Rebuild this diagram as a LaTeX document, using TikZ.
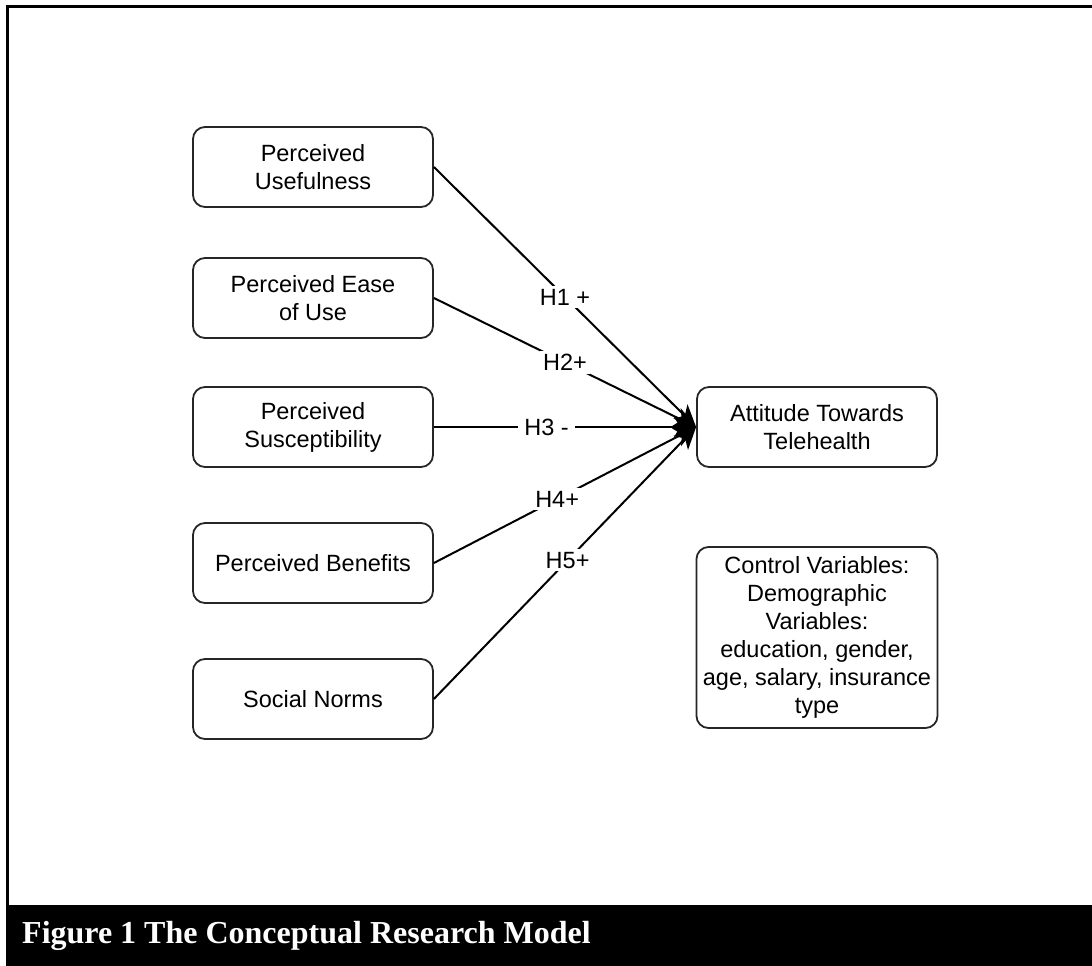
\documentclass[tikz,border=0pt]{standalone}
\usepackage{fontspec}
\setmainfont{Liberation Sans}
\newfontfamily\capfont{Liberation Serif}
\usetikzlibrary{arrows.meta}
\begin{document}
\begin{tikzpicture}[x=1pt,y=-1pt,
  box/.style={draw=black!85, line width=1.8pt, rounded corners=12pt,
    minimum width=240pt, minimum height=80pt, align=center, inner sep=0pt,
    font=\fontsize{23.5}{28}\selectfont},
  arr/.style={line width=2pt, -{Stealth[length=22pt,width=20pt,inset=6pt]}},
  lab/.style={fill=white, inner sep=3pt, font=\fontsize{23.5}{26}\selectfont}]
\useasboundingbox (0,0) rectangle (1092,966);
% frame
\draw[line width=3pt] (7,905) -- (7,7) -- (1092,7);
\fill[black] (6,905) rectangle (1092,966);
\node[anchor=base west, text=white, inner sep=0pt,
  font=\capfont\bfseries\fontsize{32}{36}\selectfont] (cap) at (22,943)
  {Figure 1 The Conceptual Research Model};
% nodes
\node[box] (pu) at (313,167) {Perceived\\Usefulness};
\node[box] (pe) at (313,298) {Perceived Ease\\of Use};
\node[box] (ps) at (313,427) {Perceived\\Susceptibility};
\node[box] (pb) at (313,563) {Perceived Benefits};
\node[box] (sn) at (313,699) {Social Norms};
\node[box] (att) at (817,427) {Attitude Towards\\Telehealth};
\node[box, minimum height=181pt, minimum width=241pt] (cv) at (817,637.5)
  {Control Variables:\\Demographic\\Variables:\\education, gender,\\age, salary, insurance\\type};
% connectors
\draw[arr] (pu.east) -- node[lab, pos=0.5] (h1) {H1 +} (att.west);
\draw[arr] (pe.east) -- node[lab, pos=0.5] (h2) {H2+} (att.west);
\draw[arr] (ps.east) -- node[lab, pos=0.43, inner xsep=6pt] (h3) {H3 -} (att.west);
\draw[arr] (pb.east) -- node[lab, pos=0.47] (h4) {H4+} (att.west);
\draw[arr] (sn.east) -- node[lab, pos=0.51] (h5) {H5+} (att.west);
\end{tikzpicture}
\end{document}
